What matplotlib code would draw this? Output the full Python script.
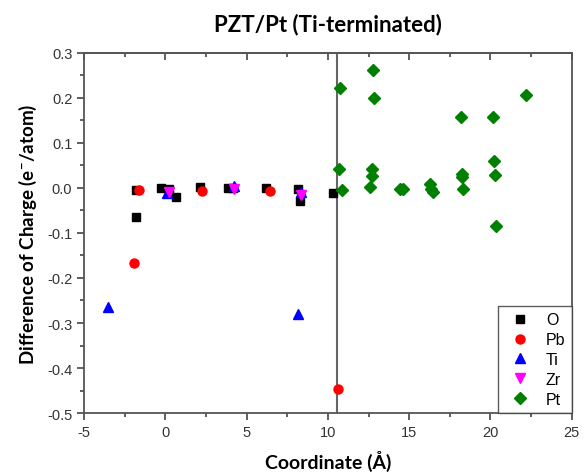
import numpy as np
import matplotlib
matplotlib.use('Agg')
import matplotlib.pyplot as plt
from matplotlib.ticker import MultipleLocator, FormatStrFormatter

plt.rcParams['font.family'] = ['Liberation Sans', 'DejaVu Sans']
plt.rcParams['mathtext.default'] = 'regular'
plt.rcParams['axes.unicode_minus'] = False

# data
O_x = [-1.81, -1.81, -0.27, 0.25, 0.66, 2.10, 3.85, 4.15, 6.17, 8.17, 8.27, 10.33]
O_y = [-0.004, -0.064, 0.000, -0.002, -0.019, 0.002, 0.000, 0.000, 0.001, -0.002, -0.030, -0.012]

Pb_x = [-1.65, -1.90, 2.26, 6.42, 10.62]
Pb_y = [-0.004, -0.167, -0.006, -0.007, -0.447]

Ti_x = [-3.52, 0.08, 4.20, 8.17, 8.37]
Ti_y = [-0.265, -0.012, 0.005, -0.280, -0.008]

Zr_x = [0.25, 4.20, 8.33]
Zr_y = [-0.008, -0.002, -0.015]

Pt_x = [10.74, 10.68, 10.84, 12.80, 12.82, 12.70, 12.70, 12.60, 14.44, 14.60,
        16.30, 16.36, 16.46, 18.20, 18.25, 18.25, 18.30, 20.16, 20.20, 20.27,
        20.37, 22.16]
Pt_y = [0.221, 0.041, -0.004, 0.262, 0.200, 0.042, 0.026, 0.003, -0.002, -0.002,
        0.009, -0.002, -0.008, 0.158, 0.031, 0.024, -0.002, 0.158, 0.059, 0.029,
        -0.084, 0.207]

interface_x = 10.58

fig = plt.figure(figsize=(5.84, 4.77), dpi=100)
ax = fig.add_axes([0.144, 0.132, 0.835, 0.755])

ax.axvline(interface_x, color='#666666', lw=1.5, zorder=1)

ax.plot(O_x, O_y, 's', color='black', ms=6, label='O', zorder=3)
ax.plot(Pb_x, Pb_y, 'o', color='red', ms=6.5, label='Pb', zorder=3)
ax.plot(Ti_x, Ti_y, '^', color='blue', ms=7, label='Ti', zorder=3)
ax.plot(Zr_x, Zr_y, 'v', color='magenta', ms=7, label='Zr', zorder=3)
ax.plot(Pt_x, Pt_y, 'D', color='green', ms=6, label='Pt', zorder=3)

ax.set_xlim(-5, 25)
ax.set_ylim(-0.5, 0.3)
ax.xaxis.set_major_locator(MultipleLocator(5))
ax.xaxis.set_minor_locator(MultipleLocator(2.5))
ax.yaxis.set_major_locator(MultipleLocator(0.1))
ax.yaxis.set_minor_locator(MultipleLocator(0.05))
ax.yaxis.set_major_formatter(FormatStrFormatter('%.1f'))
ax.tick_params(which='major', direction='out', length=5, width=1.2, labelsize=10.5, colors='#444444', labelcolor='#333333')
ax.tick_params(which='minor', direction='out', length=3, width=1.2, colors='#444444')

# inward ticks on the top edge, no labels
top = ax.secondary_xaxis('top')
top.xaxis.set_major_locator(MultipleLocator(5))
top.xaxis.set_minor_locator(MultipleLocator(2.5))
top.tick_params(which='major', direction='in', length=5, width=1.2, colors='#444444', labeltop=False)
top.tick_params(which='minor', direction='in', length=3, width=1.2, colors='#444444')
top.spines['top'].set_color('#555555')
top.spines['top'].set_linewidth(1.3)

for s in ax.spines.values():
    s.set_color('#555555')
    s.set_linewidth(1.3)

ax.set_title('PZT/Pt (Ti-terminated)', fontsize=16, fontweight='bold', family='Lato', pad=16)
ax.set_xlabel('Coordinate (Å)', fontsize=14, fontweight='bold', family='Lato', labelpad=8)
ax.set_ylabel('Difference of Charge (e$^{-}$/atom)', fontsize=13.5, fontweight='bold', family='Lato', labelpad=6)

leg = ax.legend(loc='lower right', fontsize=11.5, frameon=True, fancybox=False,
                borderaxespad=0, handletextpad=0.6, labelspacing=0.3, borderpad=0.4)
leg.get_frame().set_edgecolor('#333333')
leg.get_frame().set_linewidth(1.0)

plt.savefig('out.png', dpi=100)
